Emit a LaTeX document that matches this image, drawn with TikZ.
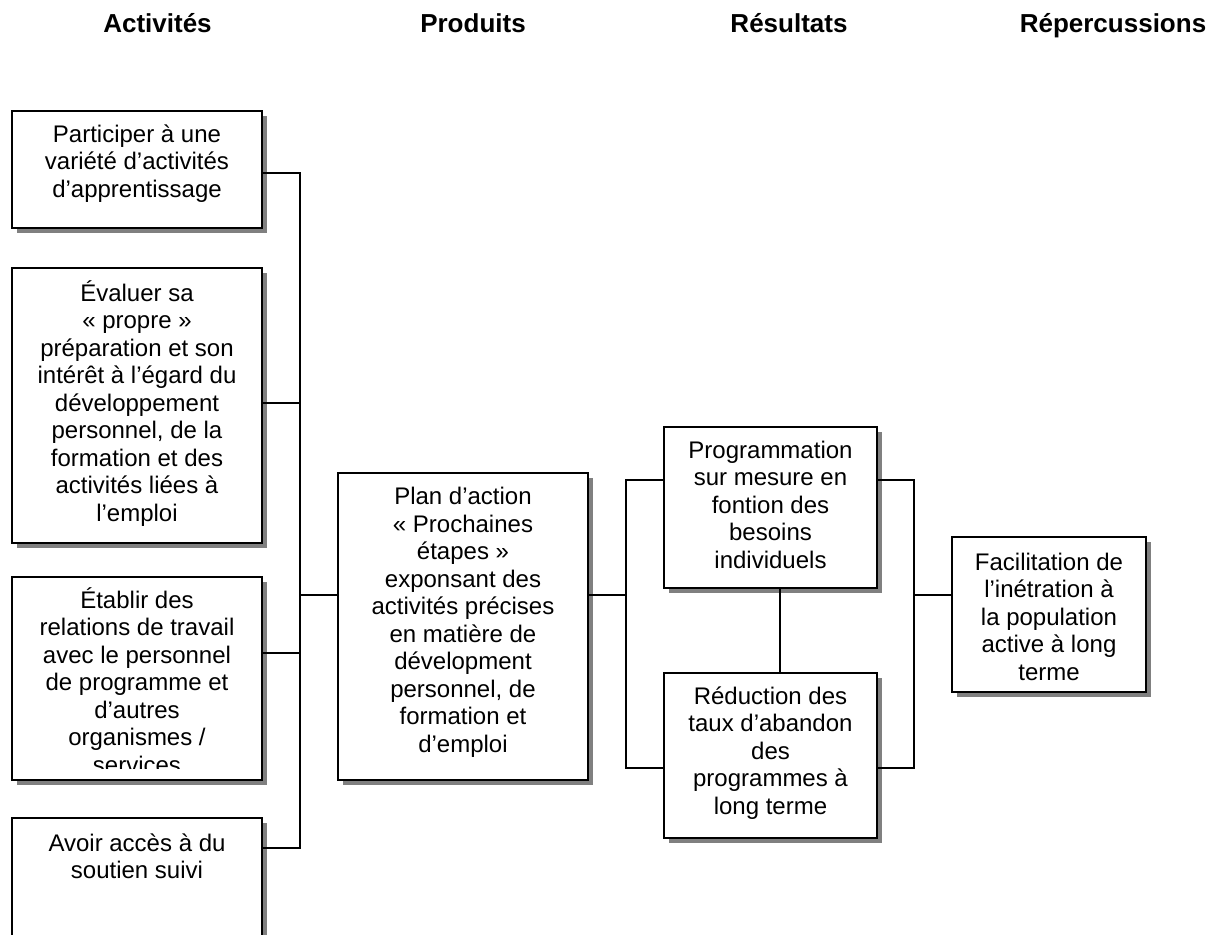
\documentclass[tikz,border=0pt]{standalone}
\usepackage{fontspec}
\setmainfont{Liberation Sans}
\usetikzlibrary{shadows}
\newcommand\boxtext[2]{\parbox[t]{#1pt}{\centering\fontsize{24}{27.5}\selectfont #2}}
\begin{document}
\begin{tikzpicture}[x=1pt,y=-1pt,
  box/.style={draw, line width=1.8pt, fill=white, inner sep=0pt,
    drop shadow={shadow xshift=5pt, shadow yshift=-5pt, fill=black!50, opacity=1}},
  txt/.style={anchor=base, inner sep=0pt},
  hdr/.style={anchor=base, inner sep=0pt, font=\fontsize{26}{30}\selectfont\bfseries},
  link/.style={line width=1.4pt}]
\clip (0,0) rectangle (1217,934);
\fill[white] (0,0) rectangle (1217,934);

% headers
\node[hdr] (h1) at (157.5,33) {Activités};
\node[hdr] (h2) at (473,33) {Produits};
\node[hdr] (h3) at (789,33) {Résultats};
\node[hdr] (h4) at (1113,33) {Répercussions};

% boxes
\node[box, minimum width=250pt, minimum height=117pt] (a1) at (137,169.5) {};
\node[box, minimum width=250pt, minimum height=275pt] (a2) at (137,405.5) {};
\node[box, minimum width=250pt, minimum height=203pt] (a3) at (137,678.5) {};
\node[box, minimum width=250pt, minimum height=142pt] (a4) at (137,889) {};
\node[box, minimum width=250pt, minimum height=307pt] (p) at (463,626.5) {};
\node[box, minimum width=213pt, minimum height=161pt] (r1) at (770.5,507.5) {};
\node[box, minimum width=213pt, minimum height=165pt] (r2) at (770.5,755.5) {};
\node[box, minimum width=194pt, minimum height=155pt] (f) at (1049,614.5) {};

% texts
\node[txt] (ta1) at ([yshift=-32pt]a1.north) {\boxtext{240}{Participer à une\\variété d’activités\\d’apprentissage}};
\node[txt] (ta2) at ([yshift=-34pt]a2.north) {\boxtext{240}{Évaluer sa\\«~propre~»\\préparation et son\\intérêt à l’égard du\\développement\\personnel, de la\\formation et des\\activités liées à\\l’emploi}};
\begin{scope}
\clip ([xshift=2pt,yshift=-2pt]a3.north west) rectangle ([xshift=-2pt,yshift=12pt]a3.south east);
\node[txt] (ta3) at ([yshift=-32pt]a3.north) {\boxtext{240}{Établir des\\relations de travail\\avec le personnel\\de programme et\\d’autres\\organismes /\\services}};
\end{scope}
\node[txt] (ta4) at ([yshift=-34pt]a4.north) {\boxtext{240}{Avoir accès à du\\soutien suivi}};
\node[txt] (tp) at ([yshift=-32.5pt]p.north) {\boxtext{240}{Plan d’action\\«~Prochaines\\étapes~»\\exponsant des\\activités précises\\en matière de\\dévelopment\\personnel, de\\formation et\\d’emploi}};
\node[txt] (tr1) at ([yshift=-32pt]r1.north) {\boxtext{205}{Programmation\\sur mesure en\\fontion des\\besoins\\individuels}};
\node[txt] (tr2) at ([yshift=-32pt]r2.north) {\boxtext{205}{Réduction des\\taux d’abandon\\des\\programmes à\\long terme}};
\node[txt] (tf) at ([yshift=-34pt]f.north) {\boxtext{186}{Facilitation de\\l’inétration à\\la population\\active à long\\terme}};

% junction coordinates
\coordinate (j1) at (300,173);
\coordinate (j2) at (300,403);
\coordinate (j3) at (300,653);
\coordinate (j4) at (300,848);
\coordinate (jp) at (300,595);
\coordinate (k0) at (626,595);
\coordinate (k1) at (626,480);
\coordinate (k2) at (626,768);
\coordinate (m1) at (914,480);
\coordinate (m2) at (914,768);
\coordinate (m0) at (914,595);
\coordinate (v) at (780,0);

% connectors
\draw[link] (a1.east |- j1) -- (j1) -- (j4) -- (a4.east |- j4);
\draw[link] (a2.east |- j2) -- (j2);
\draw[link] (a3.east |- j3) -- (j3);
\draw[link] (jp) -- (p.west |- jp);
\draw[link] (p.east |- k0) -- (k0);
\draw[link] (r1.west |- k1) -- (k1) -- (k2) -- (r2.west |- k2);
\draw[link] (r1.south -| v) -- (r2.north -| v);
\draw[link] (r1.east |- m1) -- (m1) -- (m2) -- (r2.east |- m2);
\draw[link] (m0) -- (f.west |- m0);
\end{tikzpicture}
\end{document}
